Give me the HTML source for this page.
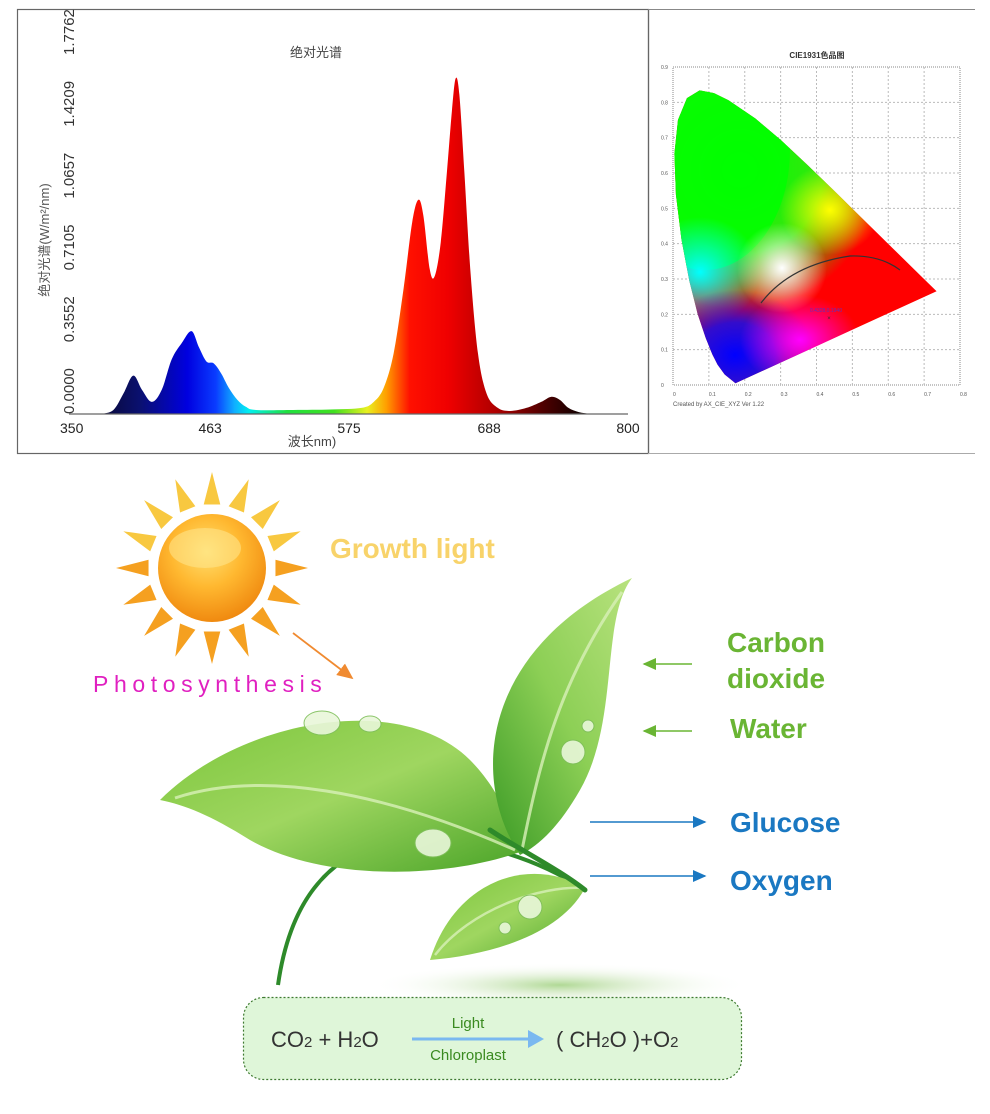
<!DOCTYPE html>
<html><head><meta charset="utf-8">
<style>
html,body{margin:0;padding:0;background:#fff;}
svg{display:block;}
text{font-family:"Liberation Sans","Noto Sans CJK SC",sans-serif;}
</style></head>
<body>
<svg id="root" width="990" height="1114" viewBox="0 0 990 1114" xmlns="http://www.w3.org/2000/svg">
<defs>
  <linearGradient id="specGrad" gradientUnits="userSpaceOnUse" x1="107" y1="0" x2="580" y2="0">
    <stop offset="0" stop-color="#0a0a40"/>
    <stop offset="0.07" stop-color="#0a1070"/>
    <stop offset="0.17" stop-color="#0000e0"/>
    <stop offset="0.23" stop-color="#0a3cff"/>
    <stop offset="0.27" stop-color="#10b0ff"/>
    <stop offset="0.30" stop-color="#00f0f0"/>
    <stop offset="0.38" stop-color="#20e040"/>
    <stop offset="0.48" stop-color="#40e020"/>
    <stop offset="0.55" stop-color="#e8f020"/>
    <stop offset="0.59" stop-color="#ffa000"/>
    <stop offset="0.64" stop-color="#ff1000"/>
    <stop offset="0.72" stop-color="#f00000"/>
    <stop offset="0.82" stop-color="#b00000"/>
    <stop offset="0.92" stop-color="#500000"/>
    <stop offset="1" stop-color="#100000"/>
  </linearGradient>
  <clipPath id="cieClip"><path id="cieClipPath" d=""/></clipPath>
  <radialGradient id="gGreen" cx="0.5" cy="0.5" r="0.5"><stop offset="0" stop-color="#00ff00"/><stop offset="0.6" stop-color="#20ff10" stop-opacity="0.9"/><stop offset="1" stop-color="#20ff10" stop-opacity="0"/></radialGradient>
  <radialGradient id="gBlue" cx="0.5" cy="0.5" r="0.5"><stop offset="0" stop-color="#0000ff"/><stop offset="0.5" stop-color="#0010ff" stop-opacity="0.8"/><stop offset="1" stop-color="#0010ff" stop-opacity="0"/></radialGradient>
  <radialGradient id="gCyan" cx="0.5" cy="0.5" r="0.5"><stop offset="0" stop-color="#00ffff"/><stop offset="1" stop-color="#00ffff" stop-opacity="0"/></radialGradient>
  <radialGradient id="gMag" cx="0.5" cy="0.5" r="0.5"><stop offset="0" stop-color="#ff00ff"/><stop offset="1" stop-color="#ff00ff" stop-opacity="0"/></radialGradient>
  <radialGradient id="gYel" cx="0.5" cy="0.5" r="0.5"><stop offset="0" stop-color="#ffff00"/><stop offset="1" stop-color="#ffff00" stop-opacity="0"/></radialGradient>
  <radialGradient id="gWhite" cx="0.5" cy="0.5" r="0.5"><stop offset="0" stop-color="#ffffff"/><stop offset="1" stop-color="#ffffff" stop-opacity="0"/></radialGradient>
  <radialGradient id="sunGrad" cx="0.45" cy="0.35" r="0.65"><stop offset="0" stop-color="#ffe070"/><stop offset="0.5" stop-color="#ffb830"/><stop offset="1" stop-color="#f08a10"/></radialGradient>
  <linearGradient id="leafGrad" x1="0" y1="0" x2="1" y2="1"><stop offset="0" stop-color="#7cc63c"/><stop offset="0.5" stop-color="#9fd660"/><stop offset="1" stop-color="#4aa428"/></linearGradient>
  <linearGradient id="leafGrad2" x1="0" y1="1" x2="1" y2="0"><stop offset="0" stop-color="#3a9a25"/><stop offset="0.5" stop-color="#8ccf55"/><stop offset="1" stop-color="#b8e27e"/></linearGradient>
  <radialGradient id="shadowGrad" cx="0.5" cy="0.5" r="0.5"><stop offset="0" stop-color="#9ccf7a" stop-opacity="0.8"/><stop offset="1" stop-color="#ffffff" stop-opacity="0"/></radialGradient>
  <marker id="arrOrange" markerWidth="10" markerHeight="10" refX="8" refY="5" orient="auto"><path d="M0,1 L9,5 L0,9 Z" fill="#f08a30"/></marker>
  <marker id="arrGreen" markerWidth="10" markerHeight="10" refX="8" refY="5" orient="auto"><path d="M0,1 L9,5 L0,9 Z" fill="#6ab534"/></marker>
  <marker id="arrBlue" markerWidth="10" markerHeight="10" refX="8" refY="5" orient="auto"><path d="M0,1 L9,5 L0,9 Z" fill="#1a78c2"/></marker>
</defs>

<g>
  <rect x="17.5" y="9.5" width="631" height="444" fill="#fff" stroke="#666" stroke-width="1.2"/>
  <text x="316" y="57" font-size="13" fill="#444" text-anchor="middle">绝对光谱</text>
  <text transform="translate(49,240) rotate(-90)" font-size="13" fill="#555" text-anchor="middle">绝对光谱(W/m²/nm)</text>
  <text x="312" y="446" font-size="13" fill="#444" text-anchor="middle">波长nm)</text>
  <g id="specYTicks"></g>
  <g id="specXTicks"></g>
  <path id="specArea" fill="url(#specGrad)"/>
  <line x1="69" y1="414" x2="628" y2="414" stroke="#666" stroke-width="1.2"/>
</g>

<g>
  <line x1="648.5" y1="9" x2="648.5" y2="453" stroke="#666" stroke-width="1.2"/>
  <line x1="648" y1="9.5" x2="975" y2="9.5" stroke="#888" stroke-width="1"/>
  <line x1="648" y1="453.5" x2="975" y2="453.5" stroke="#aaa" stroke-width="1"/>
  <text x="817" y="58" font-size="8" fill="#333" text-anchor="middle" font-weight="bold">CIE1931色品图</text>
  <g id="cieGrid"></g>
  <g clip-path="url(#cieClip)">
    <rect x="660" y="60" width="300" height="330" fill="#ff0000"/>
    <ellipse cx="740" cy="170" rx="140" ry="140" fill="url(#gGreen)"/>
    <ellipse cx="705" cy="150" rx="85" ry="120" fill="#00ff00" opacity="0.85"/>
    <ellipse cx="700" cy="272" rx="60" ry="55" fill="url(#gCyan)"/>
    <ellipse cx="735" cy="355" rx="80" ry="65" fill="url(#gBlue)"/>
    <ellipse cx="800" cy="340" rx="60" ry="45" fill="url(#gMag)"/>
    <ellipse cx="830" cy="210" rx="50" ry="45" fill="url(#gYel)"/>
    <ellipse cx="782" cy="268" rx="45" ry="45" fill="url(#gWhite)"/>
  </g>
  <path d="M761,303 Q790,265 850,256 Q880,255 900,270" fill="none" stroke="#333" stroke-width="1.2"/>
  <text x="826" y="312" font-size="5" fill="#6030c0" text-anchor="middle">0.4328,0.1940</text>
  <text x="829" y="320" font-size="6" fill="#333" text-anchor="middle">×</text>
  <text x="673" y="406" font-size="6" fill="#555">Created by AX_CIE_XYZ Ver 1.22</text>
</g>

<g>
  <ellipse cx="560" cy="985" rx="190" ry="22" fill="url(#shadowGrad)"/>
  <g id="sunRays"></g>
  <circle cx="212" cy="568" r="54" fill="url(#sunGrad)"/>
  <ellipse cx="205" cy="548" rx="36" ry="20" fill="#ffe890" opacity="0.55"/>
  <text x="330" y="558" font-size="28" font-weight="bold" fill="#f8d36a">Growth light</text>
  <text x="93" y="692" font-size="23" fill="#e020c0" letter-spacing="5.6">Photosynthesis</text>
  <line x1="293" y1="633" x2="352" y2="678" stroke="#f08a30" stroke-width="1.8" marker-end="url(#arrOrange)"/>

  <path d="M585,890 C540,860 470,835 400,840 C330,850 290,900 278,985" fill="none" stroke="#2e8a2a" stroke-width="4"/>
  <path d="M160,800 C240,720 400,690 470,760 C500,790 515,830 520,852 C440,880 320,880 250,840 C210,815 185,805 160,800 Z" fill="url(#leafGrad)"/>
  <path d="M175,798 C260,770 380,790 515,850" fill="none" stroke="#d8f0b8" stroke-width="3" opacity="0.8"/>
  <path d="M520,855 C470,780 480,650 632,578 C600,620 620,720 580,790 C560,825 540,845 520,855 Z" fill="url(#leafGrad2)"/>
  <path d="M522,850 C540,760 560,680 622,592" fill="none" stroke="#d8f0b8" stroke-width="3" opacity="0.8"/>
  <path d="M585,888 C530,855 455,880 430,960 C490,955 560,935 585,888 Z" fill="url(#leafGrad)"/>
  <path d="M585,888 C540,885 470,910 435,955" fill="none" stroke="#d8f0b8" stroke-width="2.5" opacity="0.8"/>
  <path d="M490,830 C520,850 560,870 585,890" fill="none" stroke="#2e8a2a" stroke-width="5" stroke-linecap="round"/>
  <g fill="#e9f7da" stroke="#7fbf5a" stroke-width="1" opacity="0.9">
    <ellipse cx="322" cy="723" rx="18" ry="12"/><ellipse cx="370" cy="724" rx="11" ry="8"/>
    <ellipse cx="573" cy="752" rx="12" ry="12"/><ellipse cx="588" cy="726" rx="6" ry="6"/>
    <ellipse cx="433" cy="843" rx="18" ry="14"/><ellipse cx="530" cy="907" rx="12" ry="12"/>
    <ellipse cx="505" cy="928" rx="6" ry="6"/>
  </g>
  <text x="727" y="652" font-size="28" font-weight="bold" fill="#6ab534">Carbon</text>
  <text x="727" y="688" font-size="28" font-weight="bold" fill="#6ab534">dioxide</text>
  <text x="730" y="738" font-size="28" font-weight="bold" fill="#6ab534">Water</text>
  <line x1="692" y1="664" x2="644" y2="664" stroke="#6ab534" stroke-width="1.5" marker-end="url(#arrGreen)"/>
  <line x1="692" y1="731" x2="644" y2="731" stroke="#6ab534" stroke-width="1.5" marker-end="url(#arrGreen)"/>
  <text x="730" y="832" font-size="28" font-weight="bold" fill="#1a78c2">Glucose</text>
  <text x="730" y="890" font-size="28" font-weight="bold" fill="#1a78c2">Oxygen</text>
  <line x1="590" y1="822" x2="705" y2="822" stroke="#1a78c2" stroke-width="1.5" marker-end="url(#arrBlue)"/>
  <line x1="590" y1="876" x2="705" y2="876" stroke="#1a78c2" stroke-width="1.5" marker-end="url(#arrBlue)"/>

  <g>
    <rect x="243.5" y="997.5" width="498" height="82" rx="20" fill="#dff6d9" stroke="#3e7a30" stroke-width="1.2" stroke-dasharray="2,2"/>
    <text x="271" y="1047" font-size="22" fill="#333">CO<tspan font-size="15">2</tspan> + H<tspan font-size="15">2</tspan>O</text>
    <line x1="412" y1="1039" x2="532" y2="1039" stroke="#7ab8f0" stroke-width="3"/>
    <path d="M528,1030 L544,1039 L528,1048 Z" fill="#7ab8f0"/>
    <text x="468" y="1028" font-size="15" fill="#3a8a20" text-anchor="middle">Light</text>
    <text x="468" y="1060" font-size="15" fill="#3a8a20" text-anchor="middle">Chloroplast</text>
    <text x="556" y="1047" font-size="22" fill="#333">( CH<tspan font-size="15">2</tspan>O )+O<tspan font-size="15">2</tspan></text>
  </g>
</g>
</svg>
<script>
// Spectrum data
const wavelengths = [375,385,393,401,408,416,424,432,440,448,454,460,466,472,478,485,492,500,530,560,585,595,603,611,619,626,631,635,640,644,649,654,658,661,664,668,673,679,686,695,705,718,730,738,745,752,760,770];
const intensities = [0,0.02,0.1,0.19,0.12,0.06,0.12,0.27,0.35,0.41,0.33,0.26,0.25,0.2,0.13,0.07,0.035,0.02,0.02,0.022,0.03,0.06,0.13,0.3,0.62,0.95,1.06,0.98,0.72,0.68,0.85,1.2,1.5,1.66,1.58,1.2,0.7,0.3,0.1,0.03,0.015,0.03,0.06,0.085,0.07,0.03,0.01,0];
const yTickLabels = ["0.0000","0.3552","0.7105","1.0657","1.4209","1.7762"];
const xTickValues = [350,463,575,688,800];
const NS = "http://www.w3.org/2000/svg";
const xScale = nm => 70 + (nm - 350) * (558 / 450);
const yScale = v => 414 - v * (359 / 1.7762);

(function(){
  const pts = wavelengths.map((w,i)=>[xScale(w), yScale(intensities[i])]);
  let d = "M" + pts[0][0] + "," + pts[0][1];
  for (let i=0;i<pts.length-1;i++){
    const p0 = pts[Math.max(0,i-1)], p1 = pts[i], p2 = pts[i+1], p3 = pts[Math.min(pts.length-1,i+2)];
    const c1x = p1[0] + (p2[0]-p0[0])/6, c1y = Math.min(414, p1[1] + (p2[1]-p0[1])/6);
    const c2x = p2[0] - (p3[0]-p1[0])/6, c2y = Math.min(414, p2[1] - (p3[1]-p1[1])/6);
    d += " C" + c1x + "," + c1y + " " + c2x + "," + c2y + " " + p2[0] + "," + p2[1];
  }
  d += " Z";
  document.getElementById("specArea").setAttribute("d", d);

  const yt = document.getElementById("specYTicks");
  yTickLabels.forEach(lbl=>{
    const t = document.createElementNS(NS,"text");
    
    
    const y = yScale(parseFloat(lbl));
    t.setAttribute("transform","translate(74,"+y+") rotate(-90)");
    t.setAttribute("font-size","15");
    t.setAttribute("fill","#333");
    t.textContent = lbl;
    yt.appendChild(t);
  });
  const xt = document.getElementById("specXTicks");
  xTickValues.forEach(v=>{
    const t = document.createElementNS(NS,"text");
    
    
    t.setAttribute("x", xScale(v));
    t.setAttribute("y", 433);
    t.setAttribute("font-size","14");
    t.setAttribute("fill","#222");
    t.setAttribute("text-anchor", v===350 ? "start" : "middle");
    if (v===350) t.setAttribute("x", 60);
    t.textContent = v;
    xt.appendChild(t);
  });
})();

// CIE locus
const locusX = [0.1741,0.1440,0.1241,0.1096,0.0913,0.0687,0.0454,0.0235,0.0082,0.0039,0.0139,0.0389,0.0743,0.1142,0.1547,0.2296,0.3016,0.3731,0.4441,0.5125,0.5752,0.6270,0.6915,0.7190,0.7347];
const locusY = [0.0050,0.0297,0.0578,0.0868,0.1327,0.2007,0.2950,0.4127,0.5384,0.6548,0.7502,0.8120,0.8338,0.8262,0.8059,0.7543,0.6923,0.6245,0.5547,0.4866,0.4242,0.3725,0.3083,0.2809,0.2653];
const cx = v => 673 + v * (287 / 0.8);
const cy = v => 385 - v * (318 / 0.9);
(function(){
  let d = "M" + locusX.map((x,i)=>cx(x)+","+cy(locusY[i])).join(" L") + " Z";
  document.getElementById("cieClipPath").setAttribute("d", d);
  const g = document.getElementById("cieGrid");
  const fr = document.createElementNS(NS,"rect");
  
  
  fr.setAttribute("x",673);fr.setAttribute("y",67);fr.setAttribute("width",287);fr.setAttribute("height",318);
  fr.setAttribute("fill","none");fr.setAttribute("stroke","#888");fr.setAttribute("stroke-dasharray","1,1");
  g.appendChild(fr);
  for (let i=1;i<8;i++){
    const l = document.createElementNS(NS,"line");
    
    
    l.setAttribute("x1",cx(i/10));l.setAttribute("x2",cx(i/10));l.setAttribute("y1",67);l.setAttribute("y2",385);
    l.setAttribute("stroke","#bbb");l.setAttribute("stroke-dasharray","2,2");
    g.appendChild(l);
  }
  for (let i=1;i<9;i++){
    const l = document.createElementNS(NS,"line");
    
    
    l.setAttribute("y1",cy(i/10));l.setAttribute("y2",cy(i/10));l.setAttribute("x1",673);l.setAttribute("x2",960);
    l.setAttribute("stroke","#bbb");l.setAttribute("stroke-dasharray","2,2");
    g.appendChild(l);
  }
  for (let i=0;i<=8;i++){
    const t = document.createElementNS(NS,"text");
    
    
    t.setAttribute("x",cx(i/10));t.setAttribute("y",396);t.setAttribute("font-size","5");t.setAttribute("fill","#555");
    t.textContent = i===0?"0":(i/10).toFixed(1);
    g.appendChild(t);
  }
  for (let i=0;i<=9;i++){
    const t = document.createElementNS(NS,"text");
    
    
    t.setAttribute("x",661);t.setAttribute("y",cy(i/10)+2);t.setAttribute("font-size","5");t.setAttribute("fill","#555");
    t.textContent = i===0?"0":(i/10).toFixed(1);
    g.appendChild(t);
  }
})();

// Sun rays
(function(){
  const g = document.getElementById("sunRays");
  const n = 16;
  for (let i=0;i<n;i++){
    const a = i*2*Math.PI/n - Math.PI/2;
    const r1 = 64, r2 = 96, w = 0.13;
    const p = [[212+r1*Math.cos(a-w),568+r1*Math.sin(a-w)],[212+r2*Math.cos(a),568+r2*Math.sin(a)],[212+r1*Math.cos(a+w),568+r1*Math.sin(a+w)]];
    const tri = document.createElementNS(NS,"polygon");
    
    
    tri.setAttribute("points", p.map(q=>q.join(",")).join(" "));
    const s = Math.sin(a);
    tri.setAttribute("fill", s < 0 ? "#f8c840" : "#f5a020");
    g.appendChild(tri);
  }
})();
</script>
</body></html>
